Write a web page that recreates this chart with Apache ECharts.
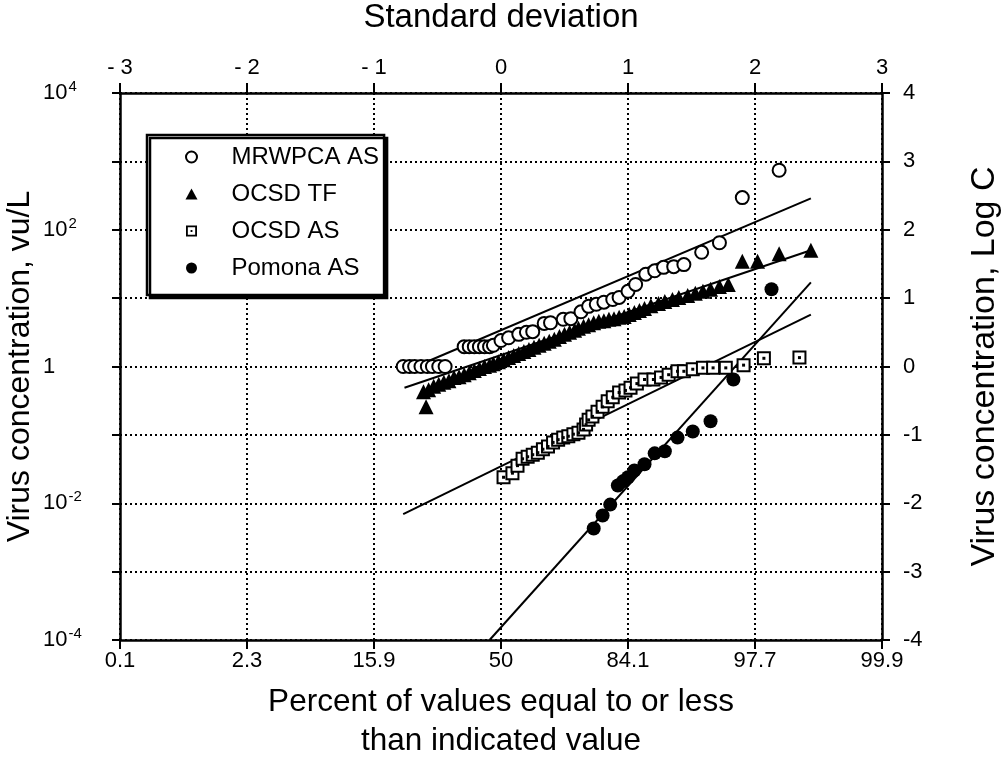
<!DOCTYPE html>
<html><head><meta charset="utf-8">
<script src="https://cdn.jsdelivr.net/npm/echarts@6/dist/echarts.min.js"></script>
<style>html,body{margin:0;padding:0;background:#fff}#c{width:1003px;height:761px}</style>
</head><body><div id="c"></div>
<script>
// x = standard deviation (normal score), y = log10 of virus concentration (vu/L)
const sdTicks = [-3, -2, -1, 0, 1, 2, 3];
const percentLabels = ['0.1', '2.3', '15.9', '50', '84.1', '97.7', '99.9'];
const sdLabels = ['- 3', '- 2', '- 1', '0', '1', '2', '3'];
const logTicks = [-4, -3, -2, -1, 0, 1, 2, 3, 4];

const mrwpcaAS = [
  [-0.77,0],[-0.72,0],[-0.68,0],[-0.63,0],[-0.58,0],[-0.54,0],[-0.49,0],[-0.44,0],
  [-0.29,0.29],[-0.25,0.29],[-0.21,0.29],[-0.17,0.29],[-0.13,0.29],[-0.09,0.29],[-0.06,0.31],
  [0.00,0.38],[0.06,0.42],[0.14,0.47],[0.20,0.50],[0.25,0.51],[0.34,0.63],[0.39,0.64],[0.49,0.69],
  [0.55,0.70],[0.63,0.80],[0.69,0.88],[0.75,0.91],[0.81,0.94],[0.88,0.98],[0.93,1.01],[1.00,1.10],
  [1.06,1.20],[1.14,1.35],[1.21,1.40],[1.28,1.45],[1.36,1.46],[1.44,1.49],[1.58,1.67],[1.72,1.81],
  [1.90,2.47],[2.19,2.87]
];
const ocsdTF = [
  [-0.59,-0.59],[-0.61,-0.37],[-0.57,-0.34],[-0.53,-0.29],[-0.49,-0.26],[-0.45,-0.23],[-0.41,-0.21],
  [-0.37,-0.16],[-0.33,-0.15],[-0.29,-0.12],[-0.25,-0.09],[-0.21,-0.06],[-0.17,-0.03],[-0.13,0.00],
  [-0.09,0.02],[-0.06,0.04],[-0.02,0.07],[0.02,0.10],[0.06,0.13],[0.10,0.16],[0.14,0.19],[0.18,0.22],
  [0.22,0.25],[0.26,0.28],[0.30,0.31],[0.34,0.34],[0.38,0.37],[0.42,0.40],[0.46,0.44],[0.50,0.47],
  [0.54,0.50],[0.58,0.53],[0.61,0.56],[0.65,0.59],[0.69,0.61],[0.73,0.64],[0.77,0.66],[0.81,0.67],
  [0.85,0.69],[0.89,0.70],[0.93,0.72],[0.97,0.73],[1.01,0.76],[1.05,0.79],[1.09,0.82],[1.13,0.85],
  [1.18,0.89],[1.24,0.92],[1.29,0.95],[1.35,0.98],[1.40,1.01],[1.47,1.04],[1.53,1.07],[1.59,1.10],
  [1.65,1.13],[1.72,1.17],[1.79,1.20],[1.90,1.54],[2.02,1.54],[2.19,1.65],[2.44,1.70]
];
const ocsdAS = [
  [0.02,-1.62],[0.09,-1.56],[0.13,-1.45],[0.17,-1.35],[0.21,-1.32],[0.25,-1.29],[0.29,-1.26],
  [0.33,-1.21],[0.37,-1.17],[0.41,-1.11],[0.45,-1.07],[0.49,-1.04],[0.53,-1.02],[0.57,-0.99],
  [0.61,-0.97],[0.65,-0.92],[0.67,-0.85],[0.69,-0.78],[0.72,-0.73],[0.76,-0.66],[0.80,-0.59],
  [0.84,-0.51],[0.88,-0.45],[0.93,-0.38],[0.98,-0.35],[1.02,-0.31],[1.07,-0.25],[1.13,-0.19],
  [1.20,-0.19],[1.26,-0.16],[1.32,-0.12],[1.39,-0.07],[1.44,-0.07],[1.51,-0.04],[1.59,-0.02],
  [1.67,-0.02],[1.77,-0.02],[1.91,0.02],[2.07,0.12],[2.35,0.13]
];
const pomonaAS = [
  [0.73,-2.37],[0.80,-2.18],[0.86,-2.02],[0.92,-1.74],[0.96,-1.68],[1.00,-1.62],[1.05,-1.52],
  [1.13,-1.43],[1.21,-1.27],[1.29,-1.24],[1.39,-1.04],[1.51,-0.95],[1.65,-0.80],[1.83,-0.19],
  [2.13,1.13]
];
// fitted lines (end points)
const fitMRWPCA = [[-0.76,-0.07],[2.44,2.46]];
const fitOCSDTF = [[-0.76,-0.31],[2.44,1.70]];
const fitOCSDAS = [[-0.77,-2.16],[2.44,0.76]];
const fitPomona = [[-0.09,-4.0],[2.44,1.23]];

const FONT = '"Liberation Sans", Arial, Helvetica, sans-serif';
const squareDot = 'path://M0,0H12V12H0Z M2,2V10H10V2Z M5,5H7V7H5Z';
const triangleIcon = 'path://M6,0L12,11H0Z';
const axisLineStyle = {color:'#000', width:2.5};
const tickStyle = {color:'#000', width:2};
const gridLine = {show:true, lineStyle:{color:'#000', width:2, type:[2,3]}};
const idx = v => sdTicks.indexOf(Math.round(v));

const chart = echarts.init(document.getElementById('c'), null, {renderer:'canvas'});
const fitLine = (data) => ({
  type:'line', data, symbol:'none', silent:true, z:3,
  lineStyle:{color:'#000', width:2}
});
chart.setOption({
  animation:false,
  backgroundColor:'#fff',
  textStyle:{fontFamily:FONT, color:'#000'},
  grid:{left:120, right:121, top:93, bottom:121, containLabel:false, outerBoundsMode:'none'},
  xAxis:[{
    type:'value', position:'bottom', min:-3, max:3, interval:1,
    axisLine:{onZero:false, lineStyle:axisLineStyle}, axisTick:{length:9, lineStyle:tickStyle},
    axisLabel:{formatter:v=>percentLabels[idx(v)], fontSize:22, color:'#000', margin:10, fontFamily:FONT},
    splitLine:gridLine,
    name:'Percent of values equal to or less\nthan indicated value', nameLocation:'middle', nameGap:43,
    nameMoveOverlap:false,
    nameTextStyle:{fontSize:31.5, lineHeight:39, color:'#000', fontFamily:FONT}
  },{
    type:'value', position:'top', min:-3, max:3, interval:1,
    axisLine:{onZero:false, lineStyle:axisLineStyle}, axisTick:{length:10, lineStyle:tickStyle},
    axisLabel:{formatter:v=>sdLabels[idx(v)], fontSize:22, color:'#000', margin:14, fontFamily:FONT},
    splitLine:{show:false},
    name:'Standard deviation', nameLocation:'middle', nameGap:59, nameMoveOverlap:false,
    nameTextStyle:{fontSize:33, color:'#000', fontFamily:FONT}
  }],
  yAxis:[{
    type:'value', position:'left', min:-4, max:4, interval:1,
    axisLine:{onZero:false, lineStyle:axisLineStyle}, axisTick:{length:8, lineStyle:tickStyle},
    axisLabel:{
      formatter:v=>{v=Math.round(v); if(v===0) return '{b|1}'; if(v%2===0) return '{b|10}{s|'+v+'}'; return '';},
      align:'left', margin:77, color:'#000', fontFamily:FONT,
      rich:{b:{fontSize:22, fontFamily:FONT, color:'#000'}, s:{fontSize:15, fontFamily:FONT, color:'#000', padding:[0,0,12,1]}}
    },
    splitLine:gridLine,
    name:'Virus concentration, vu/L', nameLocation:'middle', nameGap:84, nameRotate:90, nameMoveOverlap:false,
    nameTextStyle:{fontSize:32, color:'#000', fontFamily:FONT}
  },{
    type:'value', position:'right', min:-4, max:4, interval:1,
    axisLine:{onZero:false, lineStyle:axisLineStyle}, axisTick:{length:8, lineStyle:tickStyle},
    axisLabel:{formatter:v=>String(Math.round(v)), align:'left', margin:21, fontSize:22, color:'#000', fontFamily:FONT},
    splitLine:{show:false},
    name:'Virus concentration, Log C', nameLocation:'middle', nameGap:86, nameRotate:90, nameMoveOverlap:false,
    nameTextStyle:{fontSize:34, color:'#000', fontFamily:FONT}
  }],
  legend:{
    orient:'vertical', left:147, top:135, padding:[9,5,14,38],
    itemWidth:70, itemHeight:11, itemGap:11, selectedMode:false, symbolKeepAspect:true,
    backgroundColor:'#fff', borderColor:'#000', borderWidth:2.5,
    shadowColor:'#000', shadowBlur:0, shadowOffsetX:3, shadowOffsetY:3,
    textStyle:{fontSize:24, lineHeight:26, color:'#000', fontFamily:FONT},
    data:[
      {name:'MRWPCA AS', icon:'circle'},
      {name:'OCSD TF', icon:triangleIcon},
      {name:'OCSD AS', icon:squareDot, itemStyle:{color:'#000', borderWidth:0}},
      {name:'Pomona AS', icon:'circle'}
    ]
  },
  series:[
    fitLine(fitMRWPCA), fitLine(fitOCSDTF), fitLine(fitOCSDAS), fitLine(fitPomona),
    {name:'MRWPCA AS', type:'scatter', data:mrwpcaAS, symbol:'circle', symbolSize:13, z:4, symbolKeepAspect:true,
     itemStyle:{color:'#fff', borderColor:'#000', borderWidth:2, opacity:1}},
    {name:'OCSD TF', type:'scatter', data:ocsdTF, symbol:'triangle', symbolSize:15, z:4, symbolKeepAspect:true,
     itemStyle:{color:'#000', opacity:1}},
    {name:'OCSD AS', type:'scatter', data:ocsdAS, symbol:'rect', symbolSize:12, z:4, symbolKeepAspect:true,
     itemStyle:{color:'#fff', borderColor:'#000', borderWidth:2, opacity:1}},
    {name:'OCSD AS dots', type:'scatter', data:ocsdAS, symbol:'rect', symbolSize:3, z:5, silent:true,
     itemStyle:{color:'#000', opacity:1}},
    {name:'Pomona AS', type:'scatter', data:pomonaAS, symbol:'circle', symbolSize:14, z:4, symbolKeepAspect:true,
     itemStyle:{color:'#000', opacity:1}}
  ]
});
</script></body></html>
